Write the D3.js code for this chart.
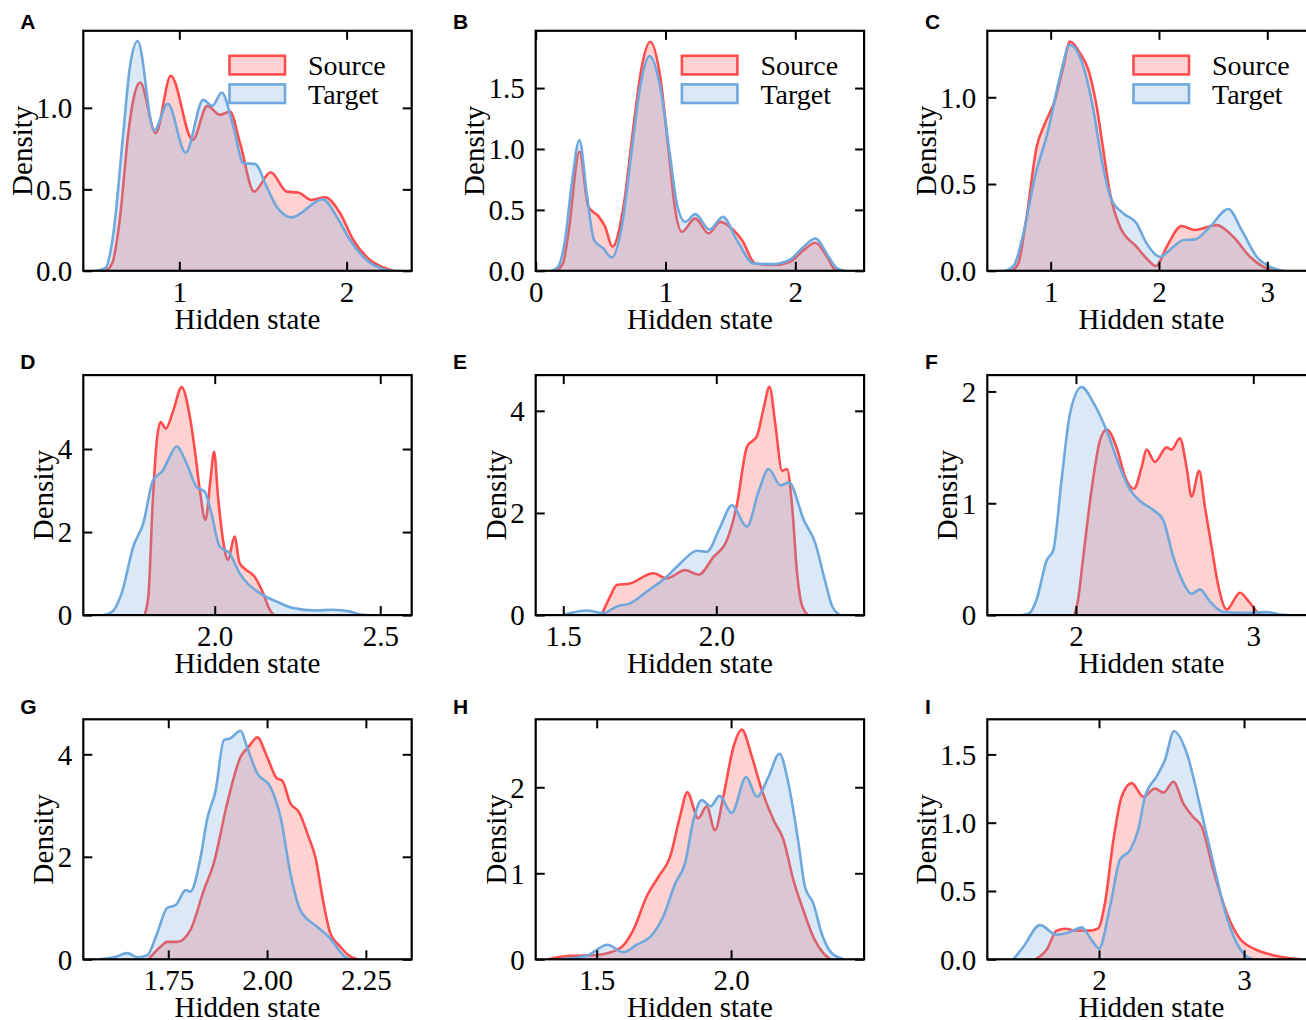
<!DOCTYPE html>
<html>
<head>
<meta charset="utf-8">
<script src="https://cdn.jsdelivr.net/npm/d3@7"></script>
<style>
    body { margin: 0; background: #fff; }
    text { font-family: "Liberation Serif", "Times New Roman", serif; }
</style>
</head>
<body>
<div id="chart"></div>
<script>
// density curves: [hidden state, density]
const srcA = [[0.56,0],[0.6,0.05],[0.646,0.332],[0.695,0.845],[0.725,1.05],[0.766,1.156],[0.859,0.845],[0.949,1.197],[1.08,0.803],[1.167,1.012],[1.243,0.957],[1.303,0.977],[1.363,0.783],[1.447,0.486],[1.546,0.605],[1.642,0.486],[1.711,0.48],[1.791,0.435],[1.871,0.451],[1.961,0.353],[2.04,0.189],[2.14,0.066],[2.22,0.02],[2.28,0]]
const tgtA = [[0.5,0],[0.56,0.02],[0.606,0.23],[0.665,0.845],[0.705,1.254],[0.751,1.41],[0.849,0.861],[0.931,1.025],[1.038,0.725],[1.143,1.049],[1.197,1.012],[1.253,1.094],[1.323,0.885],[1.383,0.66],[1.452,0.656],[1.522,0.516],[1.582,0.393],[1.672,0.328],[1.857,0.439],[1.941,0.332],[2.02,0.189],[2.12,0.066],[2.22,0.01],[2.28,0]]

const srcB = [[0.16,0],[0.21,0.06],[0.252,0.307],[0.337,0.977],[0.406,0.525],[0.483,0.449],[0.535,0.361],[0.591,0.197],[0.676,0.525],[0.753,1.182],[0.817,1.675],[0.882,1.88],[0.959,1.593],[1.023,0.991],[1.075,0.498],[1.126,0.32],[1.229,0.43],[1.332,0.307],[1.422,0.402],[1.524,0.334],[1.589,0.252],[1.692,0.06],[1.833,0.047],[1.961,0.074],[2.064,0.17],[2.154,0.23],[2.244,0.115],[2.296,0.02],[2.34,0]]
const tgtB = [[0.12,0],[0.17,0.03],[0.226,0.252],[0.278,0.717],[0.337,1.073],[0.393,0.635],[0.45,0.252],[0.522,0.183],[0.586,0.109],[0.663,0.361],[0.74,0.991],[0.805,1.511],[0.877,1.762],[0.959,1.511],[1.036,0.936],[1.087,0.553],[1.152,0.402],[1.229,0.465],[1.339,0.339],[1.442,0.443],[1.55,0.252],[1.679,0.06],[1.833,0.055],[1.961,0.093],[2.064,0.197],[2.154,0.265],[2.257,0.115],[2.321,0.02],[2.38,0]]

const srcC = [[0.64,0],[0.7,0.04],[0.778,0.312],[0.871,0.715],[0.948,0.85],[1.04,0.985],[1.117,1.177],[1.178,1.321],[1.271,1.254],[1.348,1.158],[1.425,0.946],[1.486,0.696],[1.548,0.446],[1.64,0.254],[1.794,0.138],[1.886,0.071],[1.972,0.027],[2.071,0.138],[2.209,0.258],[2.332,0.235],[2.532,0.263],[2.686,0.196],[2.84,0.081],[2.963,0.023],[3.06,0]]
const tgtC = [[0.58,0],[0.66,0.03],[0.748,0.215],[0.855,0.542],[0.978,0.812],[1.086,1.119],[1.178,1.302],[1.302,1.177],[1.394,0.927],[1.471,0.638],[1.563,0.408],[1.671,0.331],[1.794,0.273],[1.886,0.158],[2.009,0.081],[2.132,0.138],[2.225,0.177],[2.332,0.181],[2.471,0.254],[2.64,0.356],[2.763,0.235],[2.902,0.081],[3.025,0.023],[3.15,0]]

const srcD = [[1.788,0],[1.8,0.5],[1.812,2.6],[1.825,4.2],[1.837,4.65],[1.852,4.49],[1.875,4.93],[1.9,5.49],[1.925,4.77],[1.94,3.97],[1.955,3.01],[1.972,2.29],[1.987,3.25],[1.998,3.93],[2.01,2.85],[2.025,1.81],[2.04,1.33],[2.06,1.89],[2.075,1.25],[2.095,1.09],[2.12,0.93],[2.146,0.53],[2.166,0.13],[2.178,0]]
const tgtD = [[1.665,0],[1.69,0.08],[1.719,0.53],[1.754,1.65],[1.784,2.21],[1.814,3.25],[1.844,3.49],[1.859,3.73],[1.885,4.06],[1.915,3.65],[1.945,3.09],[1.97,2.97],[1.99,2.45],[2.015,1.65],[2.045,1.49],[2.075,1.01],[2.136,0.53],[2.186,0.33],[2.236,0.17],[2.306,0.11],[2.356,0.13],[2.407,0.09],[2.437,0.02],[2.46,0]]

const srcE = [[1.625,0],[1.653,0.36],[1.675,0.59],[1.718,0.62],[1.795,0.82],[1.838,0.72],[1.898,0.88],[1.942,0.79],[1.991,1.14],[2.035,1.47],[2.068,2.18],[2.1,3.29],[2.133,3.51],[2.155,4.06],[2.174,4.47],[2.193,3.74],[2.215,2.83],[2.231,2.86],[2.248,2.12],[2.264,0.82],[2.281,0.17],[2.3,0]]
const tgtE = [[1.5,0],[1.576,0.09],[1.631,0.04],[1.675,0.17],[1.718,0.23],[1.773,0.46],[1.838,0.75],[1.882,1.01],[1.937,1.26],[1.969,1.24],[2.013,1.73],[2.051,2.15],[2.1,1.73],[2.139,2.44],[2.171,2.86],[2.21,2.54],[2.237,2.6],[2.286,1.86],[2.324,1.4],[2.352,0.75],[2.379,0.17],[2.405,0]]

const srcF = [[1.99,0],[2.01,0.12],[2.041,0.52],[2.088,1.12],[2.135,1.56],[2.173,1.66],[2.229,1.5],[2.276,1.24],[2.327,1.13],[2.37,1.32],[2.398,1.48],[2.445,1.37],[2.511,1.5],[2.539,1.48],[2.586,1.58],[2.624,1.32],[2.652,1.06],[2.695,1.29],[2.727,0.97],[2.765,0.61],[2.803,0.26],[2.85,0.05],[2.925,0.2],[2.981,0.11],[3.038,0.006],[3.07,0]]
const tgtF = [[1.7,0],[1.74,0.02],[1.778,0.14],[1.835,0.49],[1.872,0.58],[1.919,1.21],[1.966,1.8],[2.032,2.04],[2.098,1.9],[2.173,1.65],[2.248,1.32],[2.305,1.12],[2.37,1.01],[2.436,0.94],[2.492,0.85],[2.549,0.52],[2.605,0.29],[2.652,0.19],[2.699,0.23],[2.756,0.12],[2.831,0.027],[2.925,0.02],[3.075,0.027],[3.15,0.006],[3.19,0]]

const srcG = [[1.7,0],[1.731,0.25],[1.747,0.34],[1.773,0.34],[1.806,0.57],[1.84,1.35],[1.865,1.87],[1.899,3.04],[1.933,3.95],[1.954,4.15],[1.975,4.33],[2.0,3.95],[2.025,3.53],[2.038,3.49],[2.059,3.04],[2.08,2.88],[2.105,2.39],[2.122,2.0],[2.143,1.09],[2.16,0.51],[2.185,0.25],[2.206,0.08],[2.228,0]]
const tgtG = [[1.575,0],[1.617,0.05],[1.646,0.12],[1.672,0.04],[1.697,0.08],[1.722,0.51],[1.747,1.0],[1.769,1.06],[1.794,1.35],[1.806,1.32],[1.832,2.0],[1.848,2.72],[1.87,3.3],[1.891,4.28],[1.907,4.31],[1.933,4.46],[1.949,4.15],[1.975,3.63],[2.008,3.37],[2.034,2.78],[2.059,1.68],[2.084,0.96],[2.126,0.64],[2.156,0.44],[2.185,0.15],[2.202,0.02],[2.215,0]]

const srcH = [[1.32,0],[1.4,0.04],[1.5,0.05],[1.587,0.13],[1.636,0.34],[1.686,0.73],[1.73,0.96],[1.773,1.19],[1.81,1.66],[1.837,1.94],[1.878,1.64],[1.909,1.78],[1.94,1.5],[1.971,1.89],[2.009,2.47],[2.04,2.67],[2.077,2.36],[2.114,1.97],[2.158,1.62],[2.195,1.39],[2.232,0.92],[2.269,0.57],[2.306,0.26],[2.344,0.07],[2.37,0]]
const tgtH = [[1.36,0],[1.463,0.04],[1.54,0.17],[1.599,0.08],[1.649,0.17],[1.699,0.26],[1.748,0.5],[1.792,0.88],[1.829,1.12],[1.86,1.62],[1.891,1.85],[1.924,1.78],[1.957,1.9],[2.002,1.7],[2.056,2.12],[2.096,1.89],[2.139,2.12],[2.18,2.39],[2.213,2.05],[2.251,1.35],[2.275,0.84],[2.306,0.65],[2.337,0.3],[2.375,0.07],[2.42,0]]

const srcI = [[1.56,0],[1.639,0.07],[1.708,0.21],[1.766,0.224],[1.846,0.21],[1.938,0.21],[1.995,0.227],[2.041,0.41],[2.099,0.87],[2.156,1.19],[2.225,1.29],[2.306,1.19],[2.386,1.25],[2.444,1.22],[2.513,1.3],[2.582,1.14],[2.651,1.04],[2.708,0.97],[2.789,0.65],[2.88,0.34],[2.972,0.15],[3.064,0.08],[3.202,0.03],[3.317,0.007],[3.39,0]]
const tgtI = [[1.41,0],[1.478,0.09],[1.593,0.25],[1.708,0.18],[1.8,0.2],[1.88,0.234],[1.949,0.14],[2.0,0.08],[2.076,0.385],[2.145,0.73],[2.214,0.8],[2.271,0.95],[2.317,1.19],[2.398,1.34],[2.455,1.46],[2.517,1.67],[2.605,1.51],[2.697,1.12],[2.789,0.7],[2.88,0.31],[2.949,0.12],[3.018,0.02],[3.06,0]]

const sourceCurves = [srcA, srcB, srcC, srcD, srcE, srcF, srcG, srcH, srcI]
const targetCurves = [tgtA, tgtB, tgtC, tgtD, tgtE, tgtF, tgtG, tgtH, tgtI]
const seriesNames = ['Source', 'Target']

// panel letters, axis ranges and ticks
const panelNames = ['A', 'B', 'C', 'D', 'E', 'F', 'G', 'H', 'I']
const xDomains = [[0.426, 2.389], [0, 2.53], [0.415, 3.447], [1.603, 2.595], [1.41, 2.483], [1.5, 3.352], [1.535, 2.366], [1.273, 2.495], [1.23, 3.494]]
const yDomains = [[0, 1.473], [0, 1.97], [0, 1.383], [0, 5.78], [0, 4.70], [0, 2.146], [0, 4.683], [0, 2.79], [0, 1.757]]
const xTickValues = [[1, 2], [0, 1, 2], [1, 2, 3], [2.0, 2.5], [1.5, 2.0], [2, 3], [1.75, 2.0, 2.25], [1.5, 2.0], [2, 3]]
const xTickLabels = [['1', '2'], ['0', '1', '2'], ['1', '2', '3'], ['2.0', '2.5'], ['1.5', '2.0'], ['2', '3'], ['1.75', '2.00', '2.25'], ['1.5', '2.0'], ['2', '3']]
const yTickValues = [[0, 0.5, 1], [0, 0.5, 1, 1.5], [0, 0.5, 1], [0, 2, 4], [0, 2, 4], [0, 1, 2], [0, 2, 4], [0, 1, 2], [0, 0.5, 1, 1.5]]
const yTickLabels = [['0.0', '0.5', '1.0'], ['0.0', '0.5', '1.0', '1.5'], ['0.0', '0.5', '1.0'], ['0', '2', '4'], ['0', '2', '4'], ['0', '1', '2'], ['0', '2', '4'], ['0', '1', '2'], ['0.0', '0.5', '1.0', '1.5']]

const colors = ['#ff4d4d', '#6fa8dc']
const colLeft = [83.3, 535.7, 987.3]
const rowTop = [30.8, 375.1, 719.3]
const letterX = [20.3, 453, 925]
const letterY = [28.5, 368.7, 713.7]
const width = 328.4
const height = 240

const svg = d3.select('#chart')
    .append('svg')
    .attr('width', 1306)
    .attr('height', 1020)

panelNames.forEach((name, k) => {
    const col = k % 3
    const row = Math.floor(k / 3)

    //panel letter
    svg.append('text')
        .attr('x', letterX[col])
        .attr('y', letterY[row])
        .style('font-family', '"Liberation Sans", Arial, sans-serif')
        .style('font-weight', 'bold')
        .style('font-size', '21px')
        .text(name)

    const g = svg.append('g')
        .attr('transform', `translate(${colLeft[col]}, ${rowTop[row]})`)

    const xScale = d3.scaleLinear().domain(xDomains[k]).range([0, width])
    const yScale = d3.scaleLinear().domain(yDomains[k]).range([height, 0])

    g.append('clipPath')
        .attr('id', 'clip' + k)
        .append('rect')
        .attr('width', width)
        .attr('height', height)

    const plot = g.append('g').attr('clip-path', `url(#clip${k})`)

    const area = d3.area()
        .x(d => xScale(d[0]))
        .y0(yScale(0))
        .y1(d => yScale(d[1]))
        .curve(d3.curveMonotoneX)

    const line = d3.line()
        .x(d => xScale(d[0]))
        .y(d => yScale(d[1]))
        .curve(d3.curveMonotoneX)

    //source first, target drawn over it
    const curves = [sourceCurves[k], targetCurves[k]]
    curves.forEach((data, i) => {
        plot.append('path')
            .datum(data)
            .attr('fill', colors[i])
            .attr('fill-opacity', 0.25)
            .attr('d', area)
        plot.append('path')
            .datum(data)
            .attr('fill', 'none')
            .attr('stroke', colors[i])
            .attr('stroke-width', 2.6)
            .attr('stroke-linejoin', 'round')
            .attr('d', line)
    })

    //axes, ticks pointing inwards on all four sides
    const xAxis = g.append('g')
        .attr('transform', `translate(0, ${height})`)
        .call(d3.axisBottom(xScale)
            .tickValues(xTickValues[k])
            .tickFormat((d, i) => xTickLabels[k][i])
            .tickSizeInner(-9).tickSizeOuter(0).tickPadding(10.4))
    const yAxis = g.append('g')
        .call(d3.axisLeft(yScale)
            .tickValues(yTickValues[k])
            .tickFormat((d, i) => yTickLabels[k][i])
            .tickSizeInner(-9).tickSizeOuter(0).tickPadding(11))
    g.append('g')
        .call(d3.axisTop(xScale)
            .tickValues(xTickValues[k])
            .tickFormat('')
            .tickSizeInner(-9).tickSizeOuter(0))
    g.append('g')
        .attr('transform', `translate(${width}, 0)`)
        .call(d3.axisRight(yScale)
            .tickValues(yTickValues[k])
            .tickFormat('')
            .tickSizeInner(-9).tickSizeOuter(0))

    g.selectAll('.domain').remove()
    g.selectAll('.tick line').attr('stroke', '#000').attr('stroke-width', 2)
    g.selectAll('.tick text')
        .attr('fill', '#000')
        .style('font-family', '"Liberation Serif", "Times New Roman", serif')
        .style('font-size', '29px')
    yAxis.selectAll('.tick text').attr('dy', '0.34em')

    //frame
    g.append('rect')
        .attr('width', width)
        .attr('height', height)
        .attr('fill', 'none')
        .attr('stroke', '#000')
        .attr('stroke-width', 2.2)

    //x label
    g.append('text')
        .attr('x', width / 2)
        .attr('y', height + 57.8)
        .attr('text-anchor', 'middle')
        .style('font-size', '29px')
        .text('Hidden state')

    //y label sits next to the widest tick label
    let maxW = 0
    yAxis.selectAll('.tick text').each(function () {
        maxW = Math.max(maxW, this.getComputedTextLength())
    })
    g.append('text')
        .attr('transform', `translate(${-11 - maxW - 4.5}, ${height / 2}) rotate(-90)`)
        .attr('text-anchor', 'middle')
        .style('font-size', '29px')
        .text('Density')

    //legend only on the top row
    if (row === 0) {
        seriesNames.forEach((s, i) => {
            const ly = 25 + i * 28.6
            g.append('rect')
                .attr('x', width - 182.2)
                .attr('y', ly)
                .attr('width', 55.5)
                .attr('height', 18.6)
                .attr('fill', colors[i])
                .attr('fill-opacity', 0.25)
                .attr('stroke', colors[i])
                .attr('stroke-width', 2.6)
            g.append('text')
                .attr('x', width - 103.7)
                .attr('y', ly + 9.3)
                .attr('dy', '0.36em')
                .style('font-size', '28px')
                .text(s)
        })
    }
})
</script>
</body>
</html>
